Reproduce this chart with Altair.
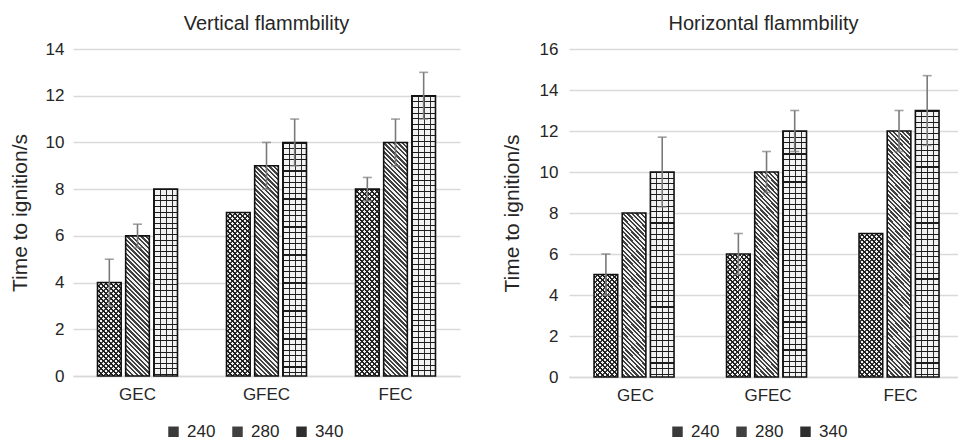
import altair as alt
import pandas as pd

# ---------------- data ----------------
categories = ["GEC", "GFEC", "FEC"]
series = ["240", "280", "340"]

vert_240 = [4, 7, 8]
vert_280 = [6, 9, 10]
vert_340 = [8, 10, 12]
vert_err_240 = [1, 0, 0.5]
vert_err_280 = [0.5, 1, 1]
vert_err_340 = [0, 1, 1]

horiz_240 = [5, 6, 7]
horiz_280 = [8, 10, 12]
horiz_340 = [10, 12, 13]
horiz_err_240 = [1, 1, 0]
horiz_err_280 = [0, 1, 1]
horiz_err_340 = [1.7, 1, 1.7]

vert_ticks = [0, 2, 4, 6, 8, 10, 12, 14]
horiz_ticks = [0, 2, 4, 6, 8, 10, 12, 14, 16]

FONT = "Liberation Sans"
TXT = "#262626"
GRID = "#d9d9d9"
LIGHT = "#f2f2f2"
DARK = "#1c1c1c"
CLEAR = "rgba(0,0,0,0)"


def make_df(v240, v280, v340, e240, e280, e340):
    rows = []
    for s, vals, errs in [("240", v240, e240), ("280", v280, e280), ("340", v340, e340)]:
        for c, v, e in zip(categories, vals, errs):
            rows.append(dict(cat=c, series=s, value=v, err=e, lo=v - e, hi=v + e))
    return pd.DataFrame(rows)


def band_stops(q, frac, on, off):
    stops = []
    k = 0
    while k * q < 1 - 1e-9:
        s = k * q
        e1 = min(s + frac * q, 1.0)
        e2 = min((k + 1) * q, 1.0)
        stops += [(s, on), (e1, on), (e1, off), (e2, off)]
        k += 1
    return [{"offset": round(o, 5), "color": col} for o, col in stops]


def diag(direction, w, h, period, frac, on, off):
    a = (w + h) / (w * w + h * h)
    if direction == "back":
        x1, y1, x2, y2 = 0, 1, a * w, 1 - a * h
    else:
        x1, y1, x2, y2 = 0, 0, a * w, a * h
    return {"gradient": "linear", "x1": round(x1, 5), "y1": round(y1, 5),
            "x2": round(x2, 5), "y2": round(y2, 5),
            "stops": band_stops(period / (w + h), frac, on, off)}


def cols(w, ncols, line, on, off):
    q = 1.0 / ncols
    return {"gradient": "linear", "x1": 0, "y1": 0, "x2": 1, "y2": 0,
            "stops": band_stops(q, line / (w / ncols), off, on)}


def rows_(h, period, line, on, off):
    return {"gradient": "linear", "x1": 0, "y1": 0, "x2": 0, "y2": 1,
            "stops": band_stops(period / h, line / period, on, off)}


def patterns(s, w, h):
    if s == "240":
        return [diag("fwd", w, h, 5.0, 0.6, LIGHT, CLEAR),
                diag("back", w, h, 5.0, 0.38, DARK, CLEAR)]
    if s == "280":
        return [diag("back", w, h, 4.6, 0.5, LIGHT, CLEAR)]
    return [cols(w, 4, 1.1, LIGHT, CLEAR), rows_(h, 5.6, 1.1, DARK, CLEAR)]


def panel(title, df, ymax, yticks, pw, ph, xpad, lab_pad, tit_pad, leg_x, leg_y):
    ppu = ph / ymax
    pi, po, al = xpad
    step = pw / (3 - pi + 2 * po)
    band = step * (1 - pi)
    opi = 0.16
    ostep = band / (3 - opi)
    bw = ostep * (1 - opi)

    x_enc = alt.X("cat:N", sort=categories,
                  scale=alt.Scale(domain=categories, paddingInner=pi, paddingOuter=po, align=al),
                  axis=alt.Axis(title=None, labelAngle=0, labelFontSize=17, labelPadding=10,
                                labelColor=TXT, ticks=False, domainColor=GRID, domainWidth=1.5,
                                labelFont=FONT))
    xo = alt.XOffset("series:N", scale=alt.Scale(domain=series, paddingInner=opi, paddingOuter=0))
    yscale = alt.Scale(domain=[0, ymax], nice=False, zero=True)
    yaxis = alt.Axis(values=yticks, title="Time to ignition/s", titleFontSize=21,
                     titleFontWeight="normal", titleColor=TXT, titleFont=FONT,
                     labelFontSize=17, labelColor=TXT, labelFont=FONT,
                     labelPadding=lab_pad, titlePadding=tit_pad,
                     grid=True, gridColor=GRID, gridWidth=1.5, domain=False, ticks=False)
    y_enc = alt.Y("value:Q", scale=yscale, axis=yaxis)

    base = alt.Chart(df).mark_bar().encode(
        x=x_enc, xOffset=xo, y=y_enc,
        color=alt.Color("series:N", sort=series,
                        scale=alt.Scale(domain=series, range=["#3a3a3a", "#404040", "#2e2e2e"]),
                        legend=alt.Legend(orient="none", legendX=leg_x, legendY=leg_y,
                                          direction="horizontal", title=None,
                                          symbolType="square", symbolSize=110,
                                          symbolStrokeWidth=0, labelFontSize=17,
                                          labelFont=FONT, labelColor=TXT,
                                          labelOffset=5, columnPadding=13)))
    layers = [base]
    for si, s in enumerate(series):
        for ci, c in enumerate(categories):
            v = df[(df.cat == c) & (df.series == s)].value.iloc[0]
            h = v * ppu
            for g in patterns(s, bw, h):
                layers.append(
                    alt.Chart(df)
                    .transform_filter(f"datum.cat == '{c}' && datum.series == '{s}'")
                    .mark_bar(color=g)
                    .encode(x=x_enc, xOffset=xo, y=y_enc))
    outline = alt.Chart(df).mark_bar(fillOpacity=0, stroke="#111111", strokeWidth=1.6).encode(
        x=x_enc, xOffset=xo, y=y_enc)
    layers.append(outline)

    errbase = alt.Chart(df).transform_filter("datum.err > 0")
    rule = errbase.mark_rule(color="#7a7a7a", strokeWidth=1.6).encode(
        x=x_enc, xOffset=xo, y=alt.Y("lo:Q", scale=yscale, axis=yaxis), y2="hi:Q")
    cap_hi = errbase.mark_tick(color="#7a7a7a", thickness=1.6, size=9).encode(
        x=x_enc, xOffset=xo, y=alt.Y("hi:Q", scale=yscale, axis=yaxis))
    cap_lo = errbase.mark_tick(color="#7a7a7a", thickness=1.6, size=9).encode(
        x=x_enc, xOffset=xo, y=alt.Y("lo:Q", scale=yscale, axis=yaxis))
    layers += [rule, cap_hi, cap_lo]

    return alt.layer(*layers).properties(
        width=pw, height=ph,
        title=alt.TitleParams(title, fontSize=20, fontWeight="normal", font=FONT,
                              color=TXT, offset=6, anchor="middle"))


df_v = make_df(vert_240, vert_280, vert_340, vert_err_240, vert_err_280, vert_err_340)
df_h = make_df(horiz_240, horiz_280, horiz_340, horiz_err_240, horiz_err_280, horiz_err_340)

left = panel("Vertical flammbility", df_v, 14, vert_ticks, 387, 327,
             (0.38, 0.19, 0.5), 9, 15, 92, 374)
right = panel("Horizontal flammbility", df_h, 16, horiz_ticks, 389, 328,
              (0.374, 0.155, 0.61), 11, 17, 100, 374)

chart = (
    alt.hconcat(left, right, spacing=41)
    .resolve_scale(color="independent")
    .resolve_legend(color="independent")
    .properties(padding={"left": 9, "top": 14, "right": 0, "bottom": 0})
    .configure(font=FONT)
    .configure_view(stroke=None)
)

chart.save("out.html", embed_options={"renderer": "svg", "actions": False})
